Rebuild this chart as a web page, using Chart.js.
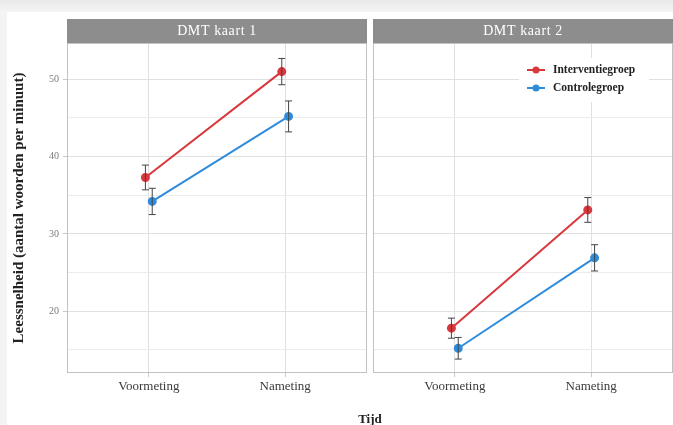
<!DOCTYPE html>
<html>
<head>
    <title>Leessnelheid DMT kaart 1 en 2</title>
    <script src="https://cdn.jsdelivr.net/npm/chart.js"></script>
    <style>
        body { margin: 0; width: 673px; height: 425px; overflow: hidden; position: relative;
               background: linear-gradient(#e9e9e9, #f4f4f4 12px); font-family: "Liberation Serif", serif; }
        #sheet { position: absolute; left: 7px; top: 12px; right: 0; bottom: 0; background: #fff; }
        .panel { position: absolute; top: 0; height: 425px; }
        #p1 { left: 0; width: 370px; }
        #p2 { left: 370px; width: 303px; }
        #xtitle { position: absolute; left: 0; width: 740px; top: 411px; text-align: center;
                  font-weight: bold; font-size: 13px; color: #222; }
    </style>
</head>
<body>
    <div id="sheet"></div>
    <div class="panel" id="p1"><canvas id="kaart1"></canvas></div>
    <div class="panel" id="p2"><canvas id="kaart2"></canvas></div>
    <div id="xtitle">Tijd</div>

    <script>
        // Values (words per minute, mean +/- error)
        const categories = ['Voormeting', 'Nameting'];
        const panels = ['DMT kaart 1', 'DMT kaart 2'];
        const groups = ['Interventiegroep', 'Controlegroep'];

        const interventie1 = [37.3, 51.0];
        const interventie1Err = [1.6, 1.7];
        const controle1 = [34.2, 45.2];
        const controle1Err = [1.7, 2.0];

        const interventie2 = [17.8, 33.1];
        const interventie2Err = [1.3, 1.6];
        const controle2 = [15.2, 26.9];
        const controle2Err = [1.4, 1.7];

        const yTicks = [15, 20, 25, 30, 35, 40, 45, 50];

        const colors = ['#d8383d', '#2f8cdc'];
        const dodge = [-0.025, 0.025];
        const serif = '"Liberation Serif", serif';

        function makeDataset(label, values, errs, i) {
            return {
                label: label,
                data: values.map((v, k) => ({ x: k + 1 + dodge[i], y: v })),
                errors: errs,
                borderColor: colors[i],
                backgroundColor: colors[i],
                borderWidth: 2,
                pointRadius: 3.5,
                pointHoverRadius: 3.5,
                showLine: true,
                tension: 0
            };
        }

        // Facet strip on top + light panel border
        const stripPlugin = {
            id: 'strip',
            beforeDraw(chart, args, opts) {
                const a = chart.chartArea;
                const c = chart.ctx;
                c.save();
                c.fillStyle = '#8d8d8d';
                c.fillRect(a.left, a.top - 24, a.right - a.left, 24);
                c.fillStyle = '#fff';
                c.font = '14px ' + serif;
                c.letterSpacing = '0.6px';
                c.textAlign = 'center';
                c.textBaseline = 'middle';
                c.fillText(opts.text, (a.left + a.right) / 2, a.top - 12);
                c.restore();
            },
            afterDraw(chart) {
                const a = chart.chartArea;
                const c = chart.ctx;
                c.save();
                c.strokeStyle = '#c2c2c2';
                c.lineWidth = 1;
                c.strokeRect(a.left + 0.5, a.top + 0.5, a.right - a.left - 1, a.bottom - a.top - 1);
                c.restore();
            }
        };

        // Error bars, drawn through the chart's own scales
        const errorBarPlugin = {
            id: 'errorBars',
            afterDatasetsDraw(chart) {
                const c = chart.ctx;
                const xs = chart.scales.x, ys = chart.scales.y;
                c.save();
                c.strokeStyle = '#444';
                c.lineWidth = 1;
                chart.data.datasets.forEach(ds => {
                    ds.data.forEach((p, k) => {
                        const x = xs.getPixelForValue(p.x);
                        const y1 = ys.getPixelForValue(p.y - ds.errors[k]);
                        const y2 = ys.getPixelForValue(p.y + ds.errors[k]);
                        c.beginPath();
                        c.moveTo(x, y1); c.lineTo(x, y2);
                        c.moveTo(x - 3.5, y1); c.lineTo(x + 3.5, y1);
                        c.moveTo(x - 3.5, y2); c.lineTo(x + 3.5, y2);
                        c.stroke();
                    });
                });
                c.restore();
            }
        };

        // ggplot-style legend inside the second panel
        const insideLegend = {
            id: 'insideLegend',
            afterDraw(chart, args, opts) {
                if (!opts.show) return;
                const a = chart.chartArea;
                const c = chart.ctx;
                const x0 = a.left + 146, y0 = a.top + 15;
                c.save();
                c.fillStyle = '#fff';
                c.fillRect(x0, y0, 130, 44);
                c.font = 'bold 11.5px ' + serif;
                c.textBaseline = 'middle';
                chart.data.datasets.forEach((ds, i) => {
                    const y = y0 + 12 + i * 18;
                    c.strokeStyle = ds.borderColor;
                    c.lineWidth = 2;
                    c.beginPath();
                    c.moveTo(x0 + 8, y); c.lineTo(x0 + 26, y);
                    c.stroke();
                    c.fillStyle = ds.backgroundColor;
                    c.beginPath();
                    c.arc(x0 + 17, y, 3.5, 0, Math.PI * 2);
                    c.fill();
                    c.fillStyle = '#222';
                    c.fillText(ds.label, x0 + 34, y);
                });
                c.restore();
            }
        };

        function makeChart(id, title, sets, first) {
            const ctx = document.getElementById(id).getContext('2d');
            return new Chart(ctx, {
                type: 'scatter',
                data: { datasets: sets },
                plugins: [stripPlugin, errorBarPlugin, insideLegend],
                options: {
                    responsive: false,
                    maintainAspectRatio: false,
                    animation: false,
                    layout: {
                        autoPadding: false,
                        padding: { top: 43, right: first ? 3 : 0, bottom: 0, left: 0 }
                    },
                    plugins: {
                        legend: { display: false },
                        tooltip: { enabled: false },
                        strip: { text: title },
                        insideLegend: { show: !first }
                    },
                    scales: {
                        x: {
                            type: 'linear',
                            min: 0.4,
                            max: 2.6,
                            afterBuildTicks: s => { s.ticks = categories.map((_, k) => ({ value: k + 1 })); },
                            afterFit: s => { s.height = 52; },
                            ticks: {
                                callback: v => categories[v - 1],
                                font: { family: serif, size: 13 },
                                color: '#3a3a3a',
                                padding: 2,
                                maxRotation: 0
                            },
                            grid: { color: '#e0e0e0', tickColor: '#c8c8c8', tickLength: 4 },
                            border: { display: false }
                        },
                        y: {
                            min: 12,
                            max: 54.7,
                            afterBuildTicks: s => { s.ticks = yTicks.map(v => ({ value: v })); },
                            afterFit: s => { s.width = first ? 67 : 3; },
                            ticks: {
                                display: first,
                                callback: v => (v % 10 === 0 ? v : ''),
                                font: { family: serif, size: 10 },
                                color: '#7a7a7a',
                                padding: 4
                            },
                            grid: {
                                color: c => (c.tick && c.tick.value % 10 === 0 ? '#e0e0e0' : '#ececec'),
                                tickColor: c => (c.tick && c.tick.value % 10 === 0 ? '#c8c8c8' : 'rgba(0,0,0,0)'),
                                tickLength: 4,
                                drawTicks: first
                            },
                            border: { display: false },
                            title: {
                                display: first,
                                text: 'Leessnelheid (aantal woorden per minuut)',
                                font: { family: serif, size: 15, weight: 'bold' },
                                color: '#222',
                                padding: { top: 10, bottom: 0 }
                            }
                        }
                    }
                }
            });
        }

        const c1 = document.getElementById('kaart1');
        c1.width = 370; c1.height = 425;
        const c2 = document.getElementById('kaart2');
        c2.width = 303; c2.height = 425;

        makeChart('kaart1', panels[0], [
            makeDataset(groups[0], interventie1, interventie1Err, 0),
            makeDataset(groups[1], controle1, controle1Err, 1)
        ], true);

        makeChart('kaart2', panels[1], [
            makeDataset(groups[0], interventie2, interventie2Err, 0),
            makeDataset(groups[1], controle2, controle2Err, 1)
        ], false);
    </script>
</body>
</html>
